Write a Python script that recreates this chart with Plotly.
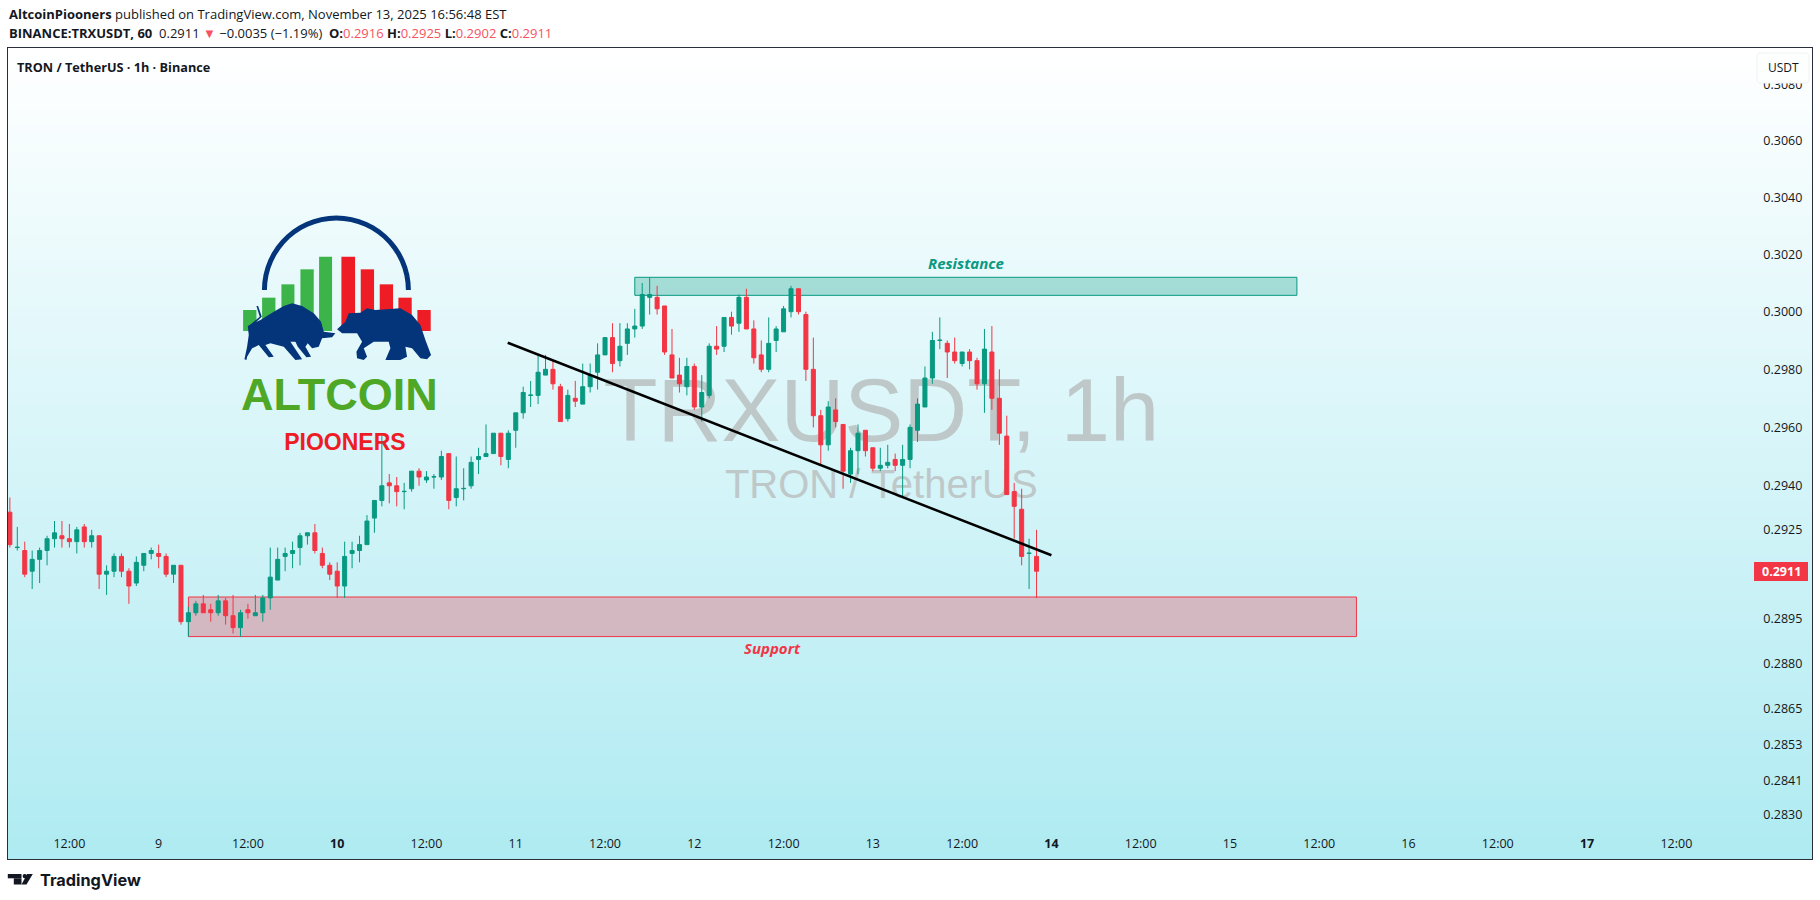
import numpy as np
import pandas as pd
import plotly.graph_objects as go

# ---- data ----
first_candle = "2025-11-08 04:00"
opens = [.2931,.2919,.2918,.2911,.2915,.2918,.2922,.2923,.2922,.2921,.2926,.2921,.2923,.2910,.2911,.2916,.2911,.2907,.2913,.2917,
         .2917,.2916,.2910,.2913,.2894,.2897,.2900,.2898,.2897,.2901,.2896,.2892,.2898,.2896,.2897,.2902,.2908,.2916,.2917,.2919,
         .2923,.2924,.2917,.2913,.2911,.2906,.2917,.2918,.2920,.2929,.2935,.2941,.2940,.2938,.2939,.2945,.2942,.2943,.2943,.2951,
         .2936,.2939,.2940,.2949,.2950,.2951,.2958,.2949,.2959,.2965,.2971,.2971,.2978,.2980,.2974,.2963,.2970,.2968,.2974,.2979,
         .2985,.2991,.2983,.2989,.2994,.2995,.3005,.3005,.3002,.2985,.2978,.2974,.2981,.2967,.2971,.2988,.2988,.2998,.2996,.3005,
         .2994,.2985,.2980,.2990,.2993,.3000,.3008,.2999,.2980,.2964,.2954,.2966,.2961,.2944,.2952,.2959,.2953,.2946,.2947,.2949,
         .2947,.2949,.2959,.2967,.2977,.2990,.2989,.2986,.2982,.2986,.2983,.2975,.2986,.2970,.2957,.2938,.2932,.2917,.2916]
highs = [.2936,.2926,.2921,.2918,.2919,.2923,.2928,.2928,.2927,.2926,.2927,.2925,.2923,.2913,.2917,.2917,.2912,.2916,.2917,.2919,
         .2920,.2917,.2913,.2913,.2899,.2901,.2903,.2900,.2903,.2902,.2903,.2898,.2900,.2903,.2903,.2919,.2919,.2919,.2921,.2924,
         .2924,.2927,.2919,.2914,.2914,.2921,.2921,.2923,.2930,.2935,.2957,.2944,.2943,.2941,.2945,.2946,.2945,.2944,.2952,.2951,
         .2950,.2946,.2950,.2953,.2961,.2958,.2958,.2959,.2965,.2974,.2976,.2985,.2985,.2983,.2975,.2973,.2976,.2982,.2982,.2989,
         .2991,.2996,.2996,.2996,.3001,.3010,.3012,.3009,.3002,.2994,.2984,.2984,.2982,.2978,.2989,.2995,.2998,.3000,.3006,.3008,
         .2997,.2990,.2998,.2995,.3002,.3009,.3008,.3000,.2991,.2966,.2969,.2970,.2961,.2953,.2961,.2959,.2953,.2953,.2954,.2951,
         .2954,.2961,.2970,.2981,.2993,.2998,.2990,.2991,.2986,.2987,.2984,.2994,.2995,.2980,.2964,.2941,.2939,.2922,.2925]
lows = [.2919,.2918,.2909,.2905,.2907,.2913,.2919,.2919,.2919,.2917,.2919,.2919,.2905,.2903,.2909,.2909,.2900,.2906,.2911,.2915,
        .2912,.2909,.2907,.2893,.2889,.2896,.2897,.2894,.2896,.2893,.2890,.2889,.2895,.2896,.2894,.2898,.2908,.2911,.2912,.2913,
        .2920,.2917,.2912,.2908,.2902,.2902,.2912,.2914,.2920,.2924,.2933,.2934,.2933,.2932,.2938,.2940,.2941,.2939,.2942,.2932,
        .2933,.2935,.2939,.2944,.2950,.2951,.2947,.2946,.2953,.2963,.2967,.2968,.2978,.2973,.2962,.2962,.2967,.2968,.2972,.2973,
        .2985,.2979,.2981,.2985,.2991,.2994,.2999,.2999,.2985,.2977,.2972,.2971,.2966,.2962,.2970,.2985,.2986,.2992,.2993,.2994,
        .2982,.2979,.2979,.2986,.2993,.2998,.2999,.2976,.2960,.2947,.2952,.2960,.2939,.2941,.2944,.2950,.2945,.2945,.2946,.2945,
        .2936,.2946,.2955,.2967,.2975,.2987,.2977,.2982,.2981,.2980,.2973,.2965,.2966,.2954,.2937,.2922,.2913,.2905,.2902]
closes = [.2920,.29191,.2910,.2915,.2918,.2922,.2924,.2922,.2921,.2925,.2921,.2923,.2910,.2911,.2916,.2911,.2906,.2914,.2917,.2918,
          .2916,.2910,.2913,.2894,.2897,.2900,.2897,.2897,.2901,.2896,.2892,.2897,.2897,.2897,.2902,.2909,.2915,.2917,.2918,.2923,
          .2924,.2918,.2913,.2910,.2906,.2916,.2918,.2920,.2928,.2935,.2940,.2940,.2938,.29381,.2945,.2943,.2943,.29431,.2950,.2935,
          .2939,.29391,.2948,.2950,.2951,.2958,.2950,.2958,.2965,.2972,.29711,.2979,.2980,.2975,.2962,.2971,.2969,.2974,.2978,.2985,
          .2991,.2982,.2988,.2994,.2995,.3006,.3006,.3001,.2986,.2977,.2975,.2981,.2967,.2972,.2988,.2987,.2998,.2995,.3005,.2994,
          .2984,.2980,.2989,.2994,.3001,.3008,.3000,.2980,.2964,.2954,.2967,.2962,.2945,.2952,.2958,.2952,.2946,.2947,.2948,.2947,
          .2949,.2960,.2968,.2977,.2990,.29901,.2986,.2983,.2986,.2983,.2975,.2987,.2970,.2958,.2937,.2933,.2916,.29171,.2911]

price_ticks = [.3080,.3060,.3040,.3020,.3000,.2980,.2960,.2940,.2925,.2895,.2880,.2865,.2853,.2841,.2830]
time_ticks = ["2025-11-08 12:00","2025-11-09 00:00","2025-11-09 12:00","2025-11-10 00:00","2025-11-10 12:00",
              "2025-11-11 00:00","2025-11-11 12:00","2025-11-12 00:00","2025-11-12 12:00","2025-11-13 00:00",
              "2025-11-13 12:00","2025-11-14 00:00","2025-11-14 12:00","2025-11-15 00:00","2025-11-15 12:00",
              "2025-11-16 00:00","2025-11-16 12:00","2025-11-17 00:00","2025-11-17 12:00"]
time_labels = ["12:00","9","12:00","<b>10</b>","12:00","11","12:00","12","12:00","13","12:00","<b>14</b>","12:00","15",
               "12:00","16","12:00","<b>17</b>","12:00"]

resistance_x = ["2025-11-11 16:00","2025-11-15 09:00"]
resistance_y = [.30057,.3012]
support_x = ["2025-11-09 04:00","2025-11-15 17:00"]
support_y = [.2889,.29023]
trend_x = ["2025-11-10 22:55","2025-11-14 00:00"]
trend_y = [.29892,.29164]
last_price = .2911

logo_green = [[68,108,330],[125,165,293],[183,222,253],[240,280,208],[296,335,170]]
logo_red = [[363,404,170],[421,461,208],[478,518,253],[534,574,293],[591,631,330]]
bull = [(72,478),(80,440),(85,405),(82,378),(120,360),(160,335),(190,318),(215,310),(245,318),(280,340),(302,365),(310,395),
        (345,400),(335,412),(305,415),(295,440),(275,445),(262,430),(255,440),(272,470),(258,472),(232,440),(225,425),(210,425),
        (245,478),(225,480),(190,440),(150,430),(135,435),(160,470),(145,472),(115,435),(95,445),(80,470),(78,480)]
bear = [(350,388),(375,365),(385,340),(420,338),(440,325),(465,330),(540,325),(575,345),(600,375),(615,420),(632,465),(620,478),
        (600,475),(575,445),(555,440),(560,470),(540,480),(495,480),(510,445),(505,425),(460,425),(430,445),(440,470),(430,480),
        (410,475),(408,455),(425,425),(410,400),(385,400),(365,400)]

# ---- frame geometry (page pixels) ----
L, R, T, B = 7.5, 1812.0, 48.0, 859.0
W, H = 1820, 900
PX_PER_DAY = 178.6
X14 = 1051.2
Y30 = 311.7
PX_PER_LN = 8617.0
day14 = pd.Timestamp("2025-11-14 00:00")

def t_at(px):
    return day14 + pd.Timedelta(days=(px - X14) / PX_PER_DAY)

def p_at(py):
    return .3 * np.exp((Y30 - py) / PX_PER_LN)

def xp(px):
    return (px - L) / (R - L)

def yp(py):
    return (B - py) / (B - T)

def box(x0, y0, x1, y1, color, layer="below", line=None):
    return dict(type="rect", xref="paper", yref="paper", x0=xp(x0), x1=xp(x1), y0=yp(y0), y1=yp(y1),
                fillcolor=color, line=dict(width=0) if line is None else line, layer=layer)

def poly(points, color, layer="below"):
    d = "M" + " L".join(f"{xp(a):.5f},{yp(b):.5f}" for a, b in points) + " Z"
    return dict(type="path", xref="paper", yref="paper", path=d, fillcolor=color, line=dict(width=0), layer=layer)

def under_text(px, py, text, size, color, family="Liberation Sans"):
    # text painted beneath the candles: a transparent rectangle's own label
    s = box(px - 350, py - 60, px + 350, py + 60, "rgba(0,0,0,0)")
    s["label"] = dict(text=text, textposition="middle center",
                      font=dict(size=size, color=color, family=family))
    return s

times = pd.date_range(first_candle, periods=len(opens), freq="h")

UP, DOWN = "#089981", "#f23645"
INK = "#131722"
FONT = "Open Sans"

shapes = []
# background gradient: overlapping bands painted top to bottom
bands = 170
for i in range(bands):
    f = i / (bands - 1)
    c = f"rgb({255 - 80 * f:.0f},{255 - 20 * f:.0f},{255 - 13 * f:.0f})"
    shapes.append(box(L, T + (B - T) * i / bands, R, B, c))

shapes.append(under_text(881, 402, "TRXUSDT, 1h", 88.5, "#bfc8c9"))
shapes.append(under_text(881, 480, "TRON / TetherUS", 40, "#bfc8c9"))

# logo (zoom coordinates to page pixels)
def lx(z): return 220 + z / 3
def ly(z): return 200 + z / 3
for a, b, top in logo_green:
    shapes.append(box(lx(a), ly(top), lx(b), ly(393), "#3cb44a"))
for a, b, top in logo_red:
    shapes.append(box(lx(a), ly(top), lx(b), ly(393), "#ee1c25"))
shapes.append(poly([(lx(a), ly(b)) for a, b in bull], "#04357a"))
shapes.append(poly([(lx(a), ly(b)) for a, b in bear], "#04357a"))
# arc
cx, cy, r = 336.0, 290.0, 72.0
ang = np.radians(np.arange(180, -1, -6))
outer = [(cx + (r + 2.5) * np.cos(a), cy - (r + 2.5) * np.sin(a)) for a in ang]
inner = [(cx + (r - 2.5) * np.cos(a), cy - (r - 2.5) * np.sin(a)) for a in ang[::-1]]
shapes.append(poly(outer + inner, "#04357a"))
# tail
shapes.append(poly([(lx(a), ly(b)) for a, b in [(85,378),(118,350),(108,318),(113,318),(124,350),(88,384)]], "#04357a"))
shapes.append(under_text(339, 390, "<b>ALTCOIN</b>", 45, "#4ea826"))
shapes.append(under_text(344.5, 440, "<b>PIOONERS</b>", 23, "#ee1c25"))

# zones
shapes.append(dict(type="rect", x0=resistance_x[0], x1=resistance_x[1], y0=resistance_y[0], y1=resistance_y[1],
                   fillcolor="rgba(8,153,129,0.3)", line=dict(color=UP, width=1), layer="below"))
shapes.append(dict(type="rect", x0=support_x[0], x1=support_x[1], y0=support_y[0], y1=support_y[1],
                   fillcolor="rgba(242,54,69,0.3)", line=dict(color=DOWN, width=1), layer="below"))

# price axis chips
shapes.append(box(1754, 562, 1808, 581, DOWN, layer="above"))
shapes.append(dict(type="path", xref="paper", yref="paper", layer="above", fillcolor="#fdffff",
                   line=dict(color="#eef3f4", width=1),
                   path=f"M{xp(1761):.5f},{yp(53):.5f} L{xp(1805):.5f},{yp(53):.5f} Q{xp(1809):.5f},{yp(53):.5f} {xp(1809):.5f},{yp(57):.5f} "
                        f"L{xp(1809):.5f},{yp(79):.5f} Q{xp(1809):.5f},{yp(83):.5f} {xp(1805):.5f},{yp(83):.5f} "
                        f"L{xp(1761):.5f},{yp(83):.5f} Q{xp(1757):.5f},{yp(83):.5f} {xp(1757):.5f},{yp(79):.5f} "
                        f"L{xp(1757):.5f},{yp(57):.5f} Q{xp(1757):.5f},{yp(53):.5f} {xp(1761):.5f},{yp(53):.5f} Z"))

# TradingView mark
shapes.append(box(7.3, 874, 21, 878.3, INK, layer="above"))
shapes.append(box(13.3, 878.3, 21, 884.5, INK, layer="above"))
shapes.append(dict(type="circle", xref="paper", yref="paper", x0=xp(22.1), x1=xp(26.5), y0=yp(873.9), y1=yp(878.3),
                   fillcolor=INK, line=dict(width=0), layer="above"))
shapes.append(poly([(26.7,874),(32.3,874),(26,884.5),(21,884.5)], INK, layer="above"))

fig = go.Figure()

fig.add_trace(go.Candlestick(
    x=times, open=opens, high=highs, low=lows, close=closes,
    increasing=dict(line=dict(color=UP, width=1), fillcolor=UP),
    decreasing=dict(line=dict(color=DOWN, width=1), fillcolor=DOWN),
    whiskerwidth=0, showlegend=False))

fig.add_trace(go.Scatter(x=trend_x, y=trend_y, mode="lines", line=dict(color="#000000", width=2.5),
                         hoverinfo="skip", showlegend=False))

annotations = []
def note(px, py, text, size, color, xanchor="center", family=FONT):
    annotations.append(dict(xref="paper", yref="paper", x=xp(px), y=yp(py), text=text, showarrow=False,
                            xanchor=xanchor, yanchor="middle", align="left",
                            font=dict(size=size, color=color, family=family)))

note(6.5, 14.5, "<b>AltcoinPiooners</b> published on TradingView.com, November 13, 2025 16:56:48 EST", 13, "#131722", "left")
RD = "#f7525f"
note(6.5, 33.5,
     "<b>BINANCE:TRXUSDT, 60</b>  0.2911 "
     f"<span style='color:{RD}'>▼</span> −0.0035 (−1.19%)  "
     f"<b>O:</b><span style='color:{RD}'>0.2916</span> <b>H:</b><span style='color:{RD}'>0.2925</span> "
     f"<b>L:</b><span style='color:{RD}'>0.2902</span> <b>C:</b><span style='color:{RD}'>0.2911</span>",
     13, "#131722", "left")
note(15, 67.5, "<b>TRON / TetherUS · 1h · Binance</b>", 12.7, INK, "left")
note(965.5, 262.5, "<b><i>Resistance</i></b>", 15, UP)
note(772.6, 648, "<b><i>Support</i></b>", 15, DOWN)
note(1783, 67, "USDT", 12, INK)
note(1803, 571.5, f"<b>{last_price:.4f}</b>", 12.5, "#ffffff", "right")
note(37.5, 880, "<b>TradingView</b>", 16.3, INK, "left", family="Inter")

fig.update_layout(
    width=W, height=H, margin=dict(l=L, r=W - R, t=T, b=H - B, pad=0),
    paper_bgcolor="#ffffff", plot_bgcolor="#ffffff", showlegend=False, boxgap=0.46, boxgroupgap=0,
    shapes=shapes, annotations=annotations, font=dict(family=FONT, color=INK),
    xaxis=dict(type="date", range=[t_at(L), t_at(R)], rangeslider=dict(visible=False), showgrid=False, zeroline=False,
               tickmode="array", tickvals=time_ticks, ticktext=time_labels, ticks="", ticklabelposition="inside",
               ticklabelstandoff=8, tickfont=dict(size=12.5, color=INK, family=FONT),
               showline=True, mirror=True, linecolor="#2a2e39", linewidth=1.2),
    yaxis=dict(type="log", side="right", range=[np.log10(p_at(B)), np.log10(p_at(T))], showgrid=False, zeroline=False,
               tickmode="array", tickvals=price_ticks, ticktext=[f"{v:.4f}" for v in price_ticks], ticks="",
               ticklabelposition="inside", ticklabelstandoff=9, tickfont=dict(size=12.5, color=INK, family=FONT),
               showline=True, mirror=True, linecolor="#2a2e39", linewidth=1.2),
)

fig.write_html("out.html", config=dict(displayModeBar=False),
               post_script="document.body.style.margin='0';document.documentElement.style.overflow='hidden';")
